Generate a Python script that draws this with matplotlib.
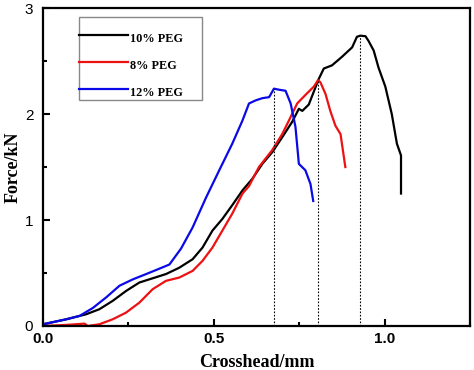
import matplotlib
matplotlib.use("Agg")
import matplotlib.pyplot as plt
import numpy as np
from matplotlib.ticker import MultipleLocator, FixedLocator
from matplotlib.lines import Line2D
from matplotlib.patches import Rectangle

# ---- data ----
labels = ["10% PEG", "8% PEG", "12% PEG"]
colors = ["#000000", "#ee1111", "#0a0ae6"]

x10 = [0.0, 0.068, 0.126, 0.165, 0.204, 0.243, 0.282, 0.321, 0.36, 0.399, 0.438,
       0.467, 0.496, 0.525, 0.554, 0.584, 0.613, 0.642, 0.671, 0.70, 0.73, 0.749,
       0.759, 0.778, 0.807, 0.822, 0.846, 0.875, 0.905, 0.919, 0.929, 0.944, 0.953,
       0.968, 0.982, 1.002, 1.021, 1.036, 1.048, 1.048]
y10 = [0.016, 0.063, 0.11, 0.158, 0.237, 0.33, 0.41, 0.45, 0.49, 0.55, 0.63,
       0.74, 0.90, 1.01, 1.14, 1.28, 1.39, 1.53, 1.64, 1.78, 1.93, 2.05,
       2.03, 2.09, 2.33, 2.43, 2.46, 2.54, 2.63, 2.73, 2.74, 2.735, 2.69,
       2.60, 2.44, 2.26, 2.0, 1.72, 1.61, 1.25]

x8 = [0.0, 0.068, 0.122, 0.131, 0.165, 0.204, 0.243, 0.282, 0.321, 0.36, 0.399,
      0.438, 0.467, 0.496, 0.525, 0.554, 0.584, 0.603, 0.632, 0.671, 0.70, 0.72,
      0.744, 0.768, 0.793, 0.805, 0.812, 0.827, 0.841, 0.856, 0.871, 0.885]
y8 = [0.0, 0.01, 0.022, 0.0, 0.016, 0.063, 0.126, 0.22, 0.347, 0.426, 0.457,
      0.52, 0.615, 0.74, 0.90, 1.06, 1.25, 1.32, 1.50, 1.66, 1.81, 1.94,
      2.10, 2.18, 2.26, 2.32, 2.30, 2.19, 2.03, 1.89, 1.81, 1.50]

x12 = [0.0, 0.068, 0.107, 0.146, 0.185, 0.224, 0.263, 0.302, 0.34, 0.37, 0.404,
       0.438, 0.477, 0.516, 0.554, 0.584, 0.603, 0.623, 0.642, 0.662, 0.676,
       0.691, 0.710, 0.725, 0.739, 0.749, 0.768, 0.783, 0.791]
y12 = [0.016, 0.063, 0.095, 0.17, 0.27, 0.38, 0.44, 0.49, 0.54, 0.58, 0.73,
       0.93, 1.21, 1.47, 1.72, 1.94, 2.10, 2.13, 2.15, 2.16, 2.24,
       2.23, 2.22, 2.10, 1.88, 1.53, 1.47, 1.34, 1.18]

series = [(x10, y10), (x8, y8), (x12, y12)]

xticks = [0.0, 0.5, 1.0]
xticklabels = ["0.0", "0.5", "1.0"]
yticks = [0, 1, 2, 3]
yticklabels = ["0", "1", "2", "3"]

# ---- figure ----
fig = plt.figure(figsize=(4.74, 3.70), dpi=100)
ax = fig.add_axes([0.0907, 0.119, 0.9009, 0.859])

for (xs, ys), c, lab in zip(series, colors, labels):
    ax.plot(xs, ys, color=c, lw=1.6, label=lab, solid_joinstyle="round")

# dotted guide lines at peaks
for xs, ys in series:
    i = int(np.argmax(ys))
    ax.vlines(xs[i], 0, ys[i], colors="black", linestyles=(0, (1.5, 1.5)), lw=0.8)

ax.set_xlim(0, 1.25)
ax.set_ylim(0, 3)
ax.xaxis.set_major_locator(FixedLocator(xticks))
ax.set_xticklabels(xticklabels, fontfamily="Liberation Sans", fontweight="bold", fontsize=11)
ax.xaxis.set_minor_locator(MultipleLocator(0.25))
ax.yaxis.set_major_locator(FixedLocator(yticks))
ax.set_yticklabels(yticklabels, fontfamily="Liberation Sans", fontsize=11)
ax.yaxis.set_minor_locator(MultipleLocator(0.5))
ax.tick_params(which="both", direction="in", top=False, right=False, width=1.5)
ax.tick_params(which="major", length=5, pad=4)
ax.tick_params(which="minor", length=3)
ax.tick_params(axis="y", pad=7)
for s in ax.spines.values():
    s.set_linewidth(1.6)

ax.set_xlabel("Crosshead/mm", fontfamily="Liberation Serif", fontweight="bold",
              fontsize=13, labelpad=6)
ax.set_ylabel("Force/kN", fontfamily="Liberation Serif", fontweight="bold",
              fontsize=13, labelpad=2)

# ---- legend (drawn manually in axes coordinates) ----
lx0, ly0, lw_, lh = 0.084, 0.711, 0.288, 0.261
ax.add_patch(Rectangle((lx0, ly0), lw_, lh, transform=ax.transAxes, fill=False,
                       edgecolor="#888888", lw=1.0, zorder=5))
rows = [0.915, 0.830, 0.745]
for lab, c, ry in zip(labels, colors, rows):
    ax.add_line(Line2D([lx0, lx0 + 0.115], [ry, ry], transform=ax.transAxes,
                       color=c, lw=1.6, zorder=6))
    ax.text(lx0 + 0.12, ry - 0.012, lab, transform=ax.transAxes, va="center",
            ha="left", fontfamily="Liberation Serif", fontweight="bold",
            fontsize=8.8, zorder=6)

fig.savefig("out.png", dpi=100)
